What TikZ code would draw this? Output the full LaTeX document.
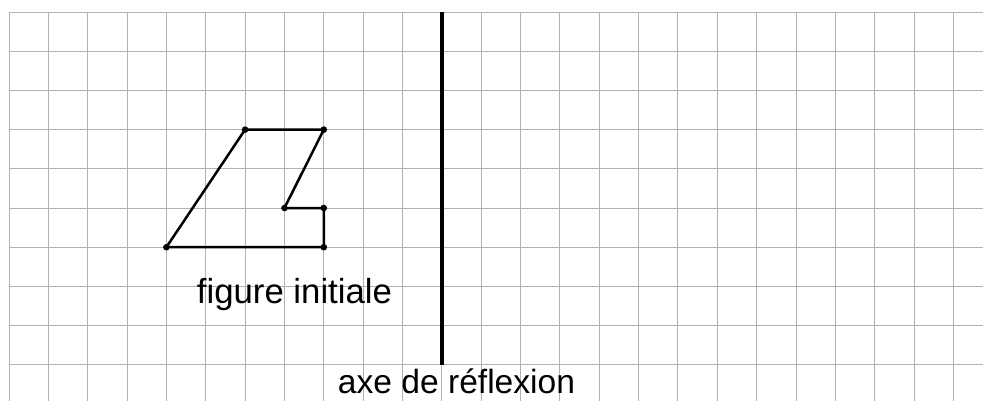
\documentclass[tikz,border=0pt]{standalone}
\usepackage{fontspec}
\setmainfont{Liberation Sans}
\begin{document}
\begin{tikzpicture}[x=1pt,y=-1pt,
  gridline/.style={draw=black!30,line width=1pt},
  axisline/.style={draw=black,line width=3.6pt},
  figline/.style={draw=black,line width=2.5pt,line join=round},
  vertexdot/.style={fill=black},
  lbl/.style={anchor=base,inner sep=0pt}]
\useasboundingbox (0,0) rectangle (983,400);
\begin{scope}
\clip (0,0) rectangle (983,400);
\begin{scope}[shift={(9,12)},x=39.35pt,y=-39.2pt]
  \foreach \i in {0,...,24} \draw[gridline] (\i,0) -- (\i,10);
  \foreach \j in {0,...,9} \draw[gridline] (0,\j) -- (25,\j);
  \coordinate (axtop) at (11,0);
  \coordinate (axbot) at (11,9);
  \draw[axisline] (axtop) -- (axbot);
  \coordinate (A) at (4,6);
  \coordinate (B) at (6,3);
  \coordinate (C) at (8,3);
  \coordinate (D) at (7,5);
  \coordinate (E) at (8,5);
  \coordinate (F) at (8,6);
  \draw[figline] (A) -- (B) -- (C) -- (D) -- (E) -- (F) -- cycle;
  \foreach \p in {A,B,C,D,E,F} \fill[vertexdot] (\p) circle (3.3pt);
\end{scope}
\end{scope}
\node[lbl] (fig) at (294.5,303) {\resizebox{195pt}{!}{figure initiale}};
\node[lbl] (axe) at (456.5,393) {\resizebox{237pt}{!}{axe de réflexion}};
\end{tikzpicture}
\end{document}
